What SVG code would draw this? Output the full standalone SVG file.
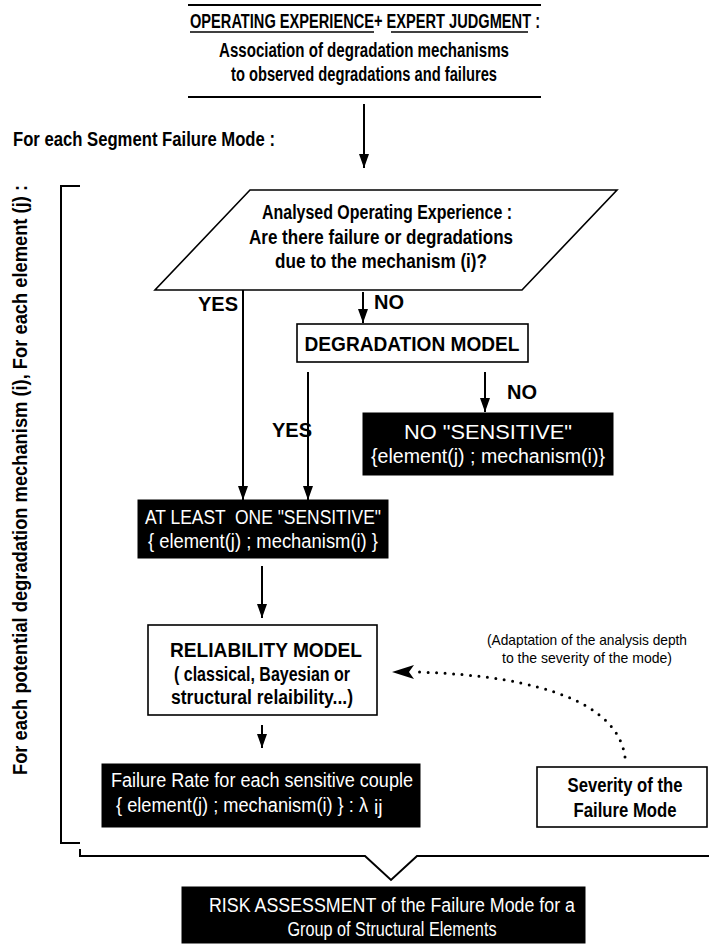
<svg xmlns="http://www.w3.org/2000/svg" width="709" height="945" viewBox="0 0 709 945">
<style>
text{font-family:"Liberation Sans",Arial,sans-serif;font-weight:bold;font-size:20px;fill:#000}
.w{fill:#fff;font-weight:normal;font-size:19.5px}
.c{text-anchor:middle}
.s{font-size:14.5px;font-weight:normal}
.ln{stroke:#000;stroke-width:2;fill:none}
.box{fill:#fff;stroke:#000;stroke-width:1.6}
.blk{fill:#000;stroke:#000}
</style>
<defs>
<marker id="ah" viewBox="0 0 10 10" refX="10" refY="5" markerWidth="14" markerHeight="10" markerUnits="userSpaceOnUse" orient="auto" preserveAspectRatio="none">
<path d="M0 0 L10 5 L0 10 Z" fill="#000"/>
</marker>
</defs>

<g id="top">
<line class="ln" x1="188" y1="5" x2="541" y2="5"/>
<line class="ln" x1="188" y1="97" x2="541" y2="97"/>
<text x="190" y="28" textLength="350" lengthAdjust="spacingAndGlyphs">OPERATING EXPERIENCE+ EXPERT JUDGMENT :</text>
<line x1="190" y1="32" x2="374" y2="32" stroke="#000" stroke-width="1.5"/>
<line x1="391" y1="32" x2="528" y2="32" stroke="#000" stroke-width="1.5"/>
<text class="c" x="364" y="57" textLength="290" lengthAdjust="spacingAndGlyphs">Association of degradation mechanisms</text>
<text class="c" x="364" y="81" textLength="266" lengthAdjust="spacingAndGlyphs">to observed degradations and failures</text>
</g>

<g id="label-segment">
<text x="13" y="146" font-size="18.5" textLength="262" lengthAdjust="spacingAndGlyphs">For each Segment Failure Mode :</text>
</g>

<g id="bracket">
<path class="ln" d="M80 186 H61 V843 H80"/>
<text class="c" transform="translate(27 480) rotate(-90)" x="0" y="0" font-size="18.5" textLength="590" lengthAdjust="spacingAndGlyphs">For each potential degradation mechanism (i), For each element (j) :</text>
</g>

<g id="decision">
<polygon class="box" points="250,190 617,190 522,290 155,290"/>
<text x="262" y="219" textLength="250" lengthAdjust="spacingAndGlyphs">Analysed Operating Experience :</text>
<text class="c" x="381" y="244" textLength="264" lengthAdjust="spacingAndGlyphs">Are there failure or degradations</text>
<text class="c" x="381" y="268" textLength="212" lengthAdjust="spacingAndGlyphs">due to the mechanism (i)?</text>
</g>

<g id="degradation-model">
<rect class="box" x="297" y="324" width="231" height="38"/>
<text class="c" x="412" y="351" textLength="215" lengthAdjust="spacingAndGlyphs">DEGRADATION MODEL</text>
</g>

<g id="no-sensitive">
<rect class="blk" x="363" y="413" width="250" height="62"/>
<text class="c w" x="488" y="439" textLength="168" lengthAdjust="spacingAndGlyphs">NO "SENSITIVE"</text>
<text class="c w" x="488" y="463" textLength="234" lengthAdjust="spacingAndGlyphs">{element(j) ; mechanism(i)}</text>
</g>

<g id="at-least-one">
<rect class="blk" x="138" y="500" width="250" height="58"/>
<text class="c w" x="263" y="524" textLength="236" lengthAdjust="spacingAndGlyphs" xml:space="preserve">AT LEAST  ONE "SENSITIVE"</text>
<text class="c w" x="263" y="548" textLength="230" lengthAdjust="spacingAndGlyphs">{ element(j) ; mechanism(i) }</text>
</g>

<g id="reliability-model">
<rect class="box" x="148" y="625" width="229" height="90"/>
<text class="c" x="266" y="657" textLength="192" lengthAdjust="spacingAndGlyphs">RELIABILITY MODEL</text>
<text class="c" x="262" y="681" textLength="176" lengthAdjust="spacingAndGlyphs">( classical, Bayesian or</text>
<text class="c" x="262" y="704" textLength="182" lengthAdjust="spacingAndGlyphs">structural relaibility...)</text>
</g>

<g id="failure-rate">
<rect class="blk" x="102" y="764" width="318" height="63"/>
<text class="c w" x="262" y="787" textLength="302" lengthAdjust="spacingAndGlyphs">Failure Rate for each sensitive couple</text>
<text class="w" x="116" y="812" textLength="252" lengthAdjust="spacingAndGlyphs">{ element(j) ; mechanism(i) } : λ</text>
<text class="w" x="374" y="814" font-size="12">ij</text>
</g>

<g id="severity">
<rect class="box" x="537" y="767" width="170" height="60"/>
<text class="c" x="625" y="792" textLength="115" lengthAdjust="spacingAndGlyphs">Severity of the</text>
<text class="c" x="625" y="817" textLength="103" lengthAdjust="spacingAndGlyphs">Failure Mode</text>
</g>

<g id="annotation">
<text class="c s" x="587" y="645" textLength="200" lengthAdjust="spacingAndGlyphs">(Adaptation of the analysis depth</text>
<text class="c s" x="587" y="663" textLength="170" lengthAdjust="spacingAndGlyphs">to the severity of the mode)</text>
</g>

<g id="risk-assessment">
<rect class="blk" x="182" y="887" width="403" height="56"/>
<text class="c w" x="392" y="912" textLength="366" lengthAdjust="spacingAndGlyphs">RISK ASSESSMENT of the Failure Mode for a</text>
<text class="c w" x="392" y="936" textLength="209" lengthAdjust="spacingAndGlyphs">Group of Structural Elements</text>
</g>

<g id="connectors">
<line class="ln" x1="364" y1="104" x2="364" y2="168" marker-end="url(#ah)"/>
<line class="ln" x1="243" y1="290" x2="243" y2="500" marker-end="url(#ah)"/>
<text x="198" y="311" font-size="17.5">YES</text>
<line class="ln" x1="363" y1="292" x2="363" y2="323" marker-end="url(#ah)"/>
<text x="374" y="309" font-size="17.5">NO</text>
<line class="ln" x1="308" y1="372" x2="308" y2="500" marker-end="url(#ah)"/>
<text x="272" y="437" font-size="17.5">YES</text>
<line class="ln" x1="485" y1="372" x2="485" y2="412" marker-end="url(#ah)"/>
<text x="507" y="399" font-size="17.5">NO</text>
<line class="ln" x1="262" y1="566" x2="262" y2="618" marker-end="url(#ah)"/>
<line class="ln" x1="262" y1="725" x2="262" y2="748" marker-end="url(#ah)"/>
<path d="M625 757 C618 705 545 676 418 672" fill="none" stroke="#000" stroke-width="3" stroke-linecap="round" stroke-dasharray="0 8.5"/>
<path d="M392 672 L414 665 L409 672 L414 679 Z" fill="#000"/>
<path class="ln" d="M80 849 V856 H365 L391 880 L417 856 H709"/>
</g>
</svg>
